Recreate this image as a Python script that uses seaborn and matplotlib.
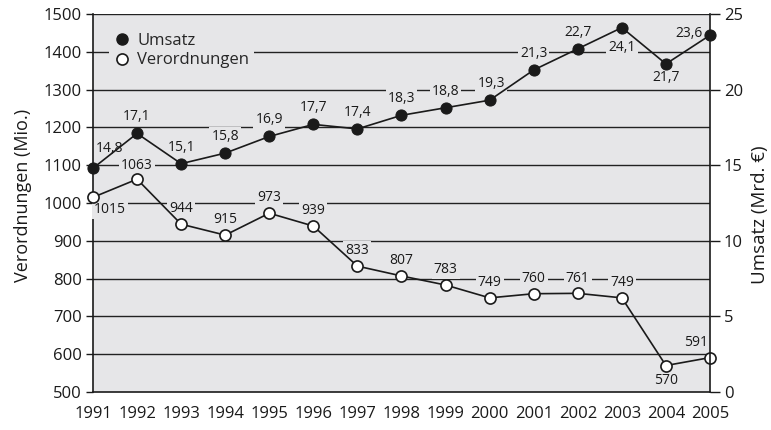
import matplotlib
matplotlib.use("Agg")
import matplotlib.pyplot as plt
import seaborn as sns
import pandas as pd

years = list(range(1991, 2006))
umsatz = [14.8, 17.1, 15.1, 15.8, 16.9, 17.7, 17.4, 18.3, 18.8, 19.3, 21.3, 22.7, 24.1, 21.7, 23.6]
verordnungen = [1015, 1063, 944, 915, 973, 939, 833, 807, 783, 749, 760, 761, 749, 570, 591]

umsatz_labels = ["14,8", "17,1", "15,1", "15,8", "16,9", "17,7", "17,4", "18,3",
                 "18,8", "19,3", "21,3", "22,7", "24,1", "21,7", "23,6"]
vo_labels = [str(v) for v in verordnungen]

# label offsets in points (dx, dy)
umsatz_off = [(12, 14), (0, 12), (0, 12), (0, 12), (0, 12), (0, 12), (0, 12), (0, 12),
              (0, 12), (1, 12), (0, 12), (0, 12), (0, -14), (0, -10), (-15, 1)]
vo_off = [(12, -9), (0, 10), (0, 11), (0, 11), (0, 11), (0, 11), (0, 11), (0, 11),
          (0, 11), (0, 11), (0, 11), (0, 11), (0, 11), (0, -11), (-10, 11)]

df = pd.DataFrame({"Jahr": years, "Umsatz": umsatz, "Verordnungen": verordnungen})

bg = "#e6e6e8"
ink = "#1a1a1a"
sns.set_theme(style="white")
plt.rcParams["font.family"] = ["Open Sans", "DejaVu Sans"]

fig = plt.figure(figsize=(7.71, 4.30), dpi=100)
ax1 = fig.add_axes([0.1206, 0.0884, 0.8003, 0.879])
ax1.set_facecolor(bg)
ax2 = ax1.twinx()

sns.lineplot(data=df, x="Jahr", y="Verordnungen", ax=ax1, color=ink, lw=1.2,
             marker="o", markersize=8, markerfacecolor="white", markeredgecolor=ink,
             markeredgewidth=1.2, clip_on=False, zorder=5)
sns.lineplot(data=df, x="Jahr", y="Umsatz", ax=ax2, color=ink, lw=1.2,
             marker="o", markersize=8, markerfacecolor=ink, markeredgecolor=ink,
             clip_on=False, zorder=5)

ax1.set_xlim(1991, 2005)
ax1.set_ylim(500, 1500)
ax2.set_ylim(0, 25)
ax1.set_xticks(years)
ax1.set_yticks(range(500, 1501, 100))
ax2.set_yticks(range(0, 26, 5))

for y in range(600, 1501, 100):
    ax1.axhline(y, color="#222222", lw=1.0, zorder=0.5)

ax1.set_xlabel("")
ax1.set_ylabel("Verordnungen (Mio.)", fontsize=13, color=ink)
ax2.set_ylabel("Umsatz (Mrd. €)", fontsize=13.5, color=ink)
ax1.yaxis.set_label_coords(-0.099, 0.52)
ax2.yaxis.set_label_coords(1.066, 0.47)

ax1.tick_params(axis="both", labelsize=12, colors=ink, length=5, width=1, direction="out")
ax1.tick_params(axis="x", length=6, pad=4)
ax1.tick_params(axis="y", pad=3)
ax2.tick_params(axis="y", labelsize=12, colors=ink, length=7, width=1, direction="out", pad=3)

for a in (ax1, ax2):
    for s in a.spines.values():
        s.set_visible(False)
ax1.spines["left"].set_visible(True)
ax1.spines["bottom"].set_visible(True)
ax2.spines["right"].set_visible(True)
for s in (ax1.spines["left"], ax1.spines["bottom"], ax2.spines["right"]):
    s.set_color(ink)
    s.set_linewidth(1.2)

box = dict(boxstyle="square,pad=0.15", facecolor=bg, edgecolor="none")
for x, y, t, (dx, dy) in zip(years, verordnungen, vo_labels, vo_off):
    ax1.annotate(t, (x, y), xytext=(dx, dy), textcoords="offset points", ha="center",
                 va="center", fontsize=10, color=ink, bbox=box, zorder=3)
for x, y, t, (dx, dy) in zip(years, umsatz, umsatz_labels, umsatz_off):
    ax2.annotate(t, (x, y), xytext=(dx, dy), textcoords="offset points", ha="center",
                 va="center", fontsize=10, color=ink, bbox=box, zorder=3)

h_u = plt.Line2D([], [], color="none", marker="o", markersize=8, markerfacecolor=ink,
                 markeredgecolor=ink)
h_v = plt.Line2D([], [], color="none", marker="o", markersize=8, markerfacecolor="white",
                 markeredgecolor=ink, markeredgewidth=1.2)
leg = ax2.legend([h_u, h_v], ["Umsatz", "Verordnungen"], loc="upper left",
                 bbox_to_anchor=(0.012, 0.985), fontsize=12, frameon=True, facecolor=bg,
                 edgecolor="none", framealpha=1, handlelength=1.0, handletextpad=0.4,
                 labelspacing=0.2, borderpad=0.3, fancybox=False)

fig.savefig("out.png", dpi=100)
